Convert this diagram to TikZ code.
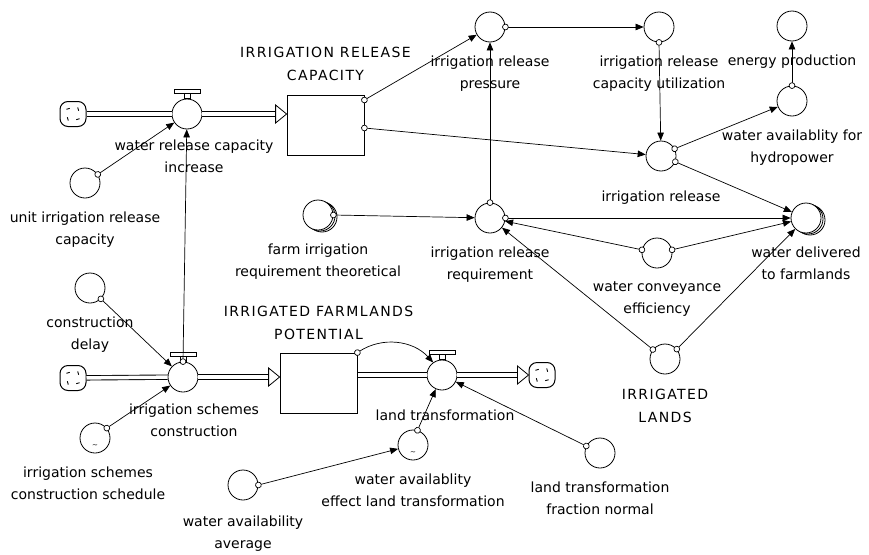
\documentclass[tikz,border=0pt]{standalone}
\usepackage{fontspec}
\setmainfont{DejaVu Sans}
\newfontfamily\capsfont[LetterSpace=10]{DejaVu Sans}
\usetikzlibrary{arrows.meta,shadows}

\begin{document}
\begin{tikzpicture}[
		x=1pt, y=-1pt,
		every label/.style = {font=\fontsize{14}{22.5}\selectfont, align=center, inner sep=0pt},
		label distance=13pt,
		var/.style = {draw, circle, fill=white, minimum size=30pt, inner sep=0pt, line width=0.8pt},
		shadowed/.style = {var, double copy shadow={shadow xshift=2pt, shadow yshift=-1pt}},
		lookup/.style = {var, label={[font=\scriptsize, label distance=-9pt]below:\textasciitilde}},
		flow/.style = {var},
		stock/.style = {draw, rectangle, fill=white, minimum width=77pt, minimum height=60pt, line width=0.8pt},
		cloud/.style = {draw, rectangle, rounded corners=8pt, minimum width=26pt, minimum height=25pt, line width=1pt,
			path picture={
				\foreach \a in {30,120,210,300}
					\draw[line width=0.9pt] ([shift={(\a:6.5pt)}]path picture bounding box.center) -- ++(\a+75:3.5pt);
			}},
		caps/.style = {font=\capsfont\fontsize{14}{23}\selectfont},
		pipe/.style = {double, double distance=3.5pt, line width=0.9pt},
		pipehead/.style = {draw, fill=white, line width=0.8pt},
		handle/.style = {draw, fill=white, line width=0.8pt},
		link/.style = {line width=0.7pt, shorten <=-3.25pt, {Circle[length=6.5pt,fill=white]}-{Triangle[length=8pt,width=6.5pt]}}
	]
	\fill[white] (0,0) rectangle (869,554);
	\useasboundingbox (0,0) rectangle (869,554);

	% upper chain
	\node[cloud] (src1) at (73,114) {};
	\node[flow, label={[xshift=7pt, yshift=3pt]below:water release capacity\\increase}] (wrci) at (187,114) {};
	\node[stock, label={[caps, label distance=14pt]above:IRRIGATION RELEASE\\CAPACITY}] (cap) at (325.5,125.5) {};
	\node[var, label={below:unit irrigation release\\capacity}] (unit) at (85,183) {};
	\node[var, label={below:irrigation release\\pressure}] (pres) at (490,27) {};
	\node[var, label={below:irrigation release\\capacity utilization}] (util) at (659,27) {};
	\node[var, label={below:energy production}] (energy) at (792,26) {};
	\node[var, label={below:water availablity for\\hydropower}] (hydro) at (792,101) {};
	\node[var, label={[yshift=-6pt]below:irrigation release}] (irel) at (661,156) {};
	\node[shadowed, label={below:water delivered\\to farmlands}] (wdel) at (806,218) {};
	\node[shadowed, label={below:farm irrigation\\requirement theoretical}] (farm) at (318,215) {};
	\node[var, label={below:irrigation release\\requirement}] (req) at (490,218) {};
	\node[var, label={below:water conveyance\\efficiency}] (wce) at (657,253) {};
	\node[var, label={[caps, yshift=-2pt]below:IRRIGATED\\LANDS}] (lands) at (665,359) {};

	% lower chain
	\node[cloud] (src2) at (73,378) {};
	\node[flow, label={[xshift=11pt, yshift=2pt]below:irrigation schemes\\construction}] (isc) at (183,377) {};
	\node[stock, label={[caps]above:IRRIGATED FARMLANDS\\POTENTIAL}] (pot) at (318.5,383) {};
	\node[flow, label={[xshift=3pt, yshift=-6pt]below:land transformation}] (lt) at (442,375) {};
	\node[cloud] (sink) at (542,375) {};
	\node[var, label={below:construction\\delay}] (delay) at (90,288) {};
	\node[lookup, label={[xshift=-7pt]below:irrigation schemes\\construction schedule}] (sched) at (95,438) {};
	\node[lookup, label={below:water availablity\\effect land transformation}] (wae) at (413,445) {};
	\node[var, label={[yshift=-2pt]below:water availability\\average}] (avg) at (243,485) {};
	\node[var, label={below:land transformation\\fraction normal}] (ltfn) at (600,453) {};

	% pipes
	\draw[pipe] (src1) -- (wrci);
	\draw[pipe, shorten >=11pt] (wrci) -- (wrci -| cap.west);
	\draw[pipehead] (wrci -| cap.west) -- ++(-11,-9) -- ++(0,18) -- cycle;
	\draw[pipe] (src2) -- (isc);
	\draw[pipe, shorten >=11pt] (isc) -- (isc -| pot.west);
	\draw[pipehead] (isc -| pot.west) -- ++(-11,-9) -- ++(0,18) -- cycle;
	\draw[pipe] ([xshift=0.4pt]lt -| pot.east) -- (lt);
	\draw[pipe, shorten >=11pt] (lt) -- (sink);
	\draw[pipehead] (sink.west) -- ++(-11,-9) -- ++(0,18) -- cycle;

	% valves
	\foreach \v in {wrci,isc,lt} {
		\draw[handle] ([xshift=-3pt]\v.north) rectangle ([xshift=3pt, yshift=5pt]\v.north);
		\draw[handle] ([xshift=-13pt, yshift=5pt]\v.north) rectangle ([xshift=13pt, yshift=9pt]\v.north);
	}

	% links
	\draw[link] (unit.34) -- (wrci);
	\draw[link] (isc.north) -- (wrci);
	\draw[link] ([yshift=25.5pt]cap.east) -- (pres);
	\draw[link] ([yshift=-2.5pt]cap.east) -- (irel);
	\draw[link] (pres.east) -- (util);
	\draw[link] (util.south) -- (irel);
	\draw[link] (irel.28) -- (hydro);
	\draw[link] (irel.-22) -- (wdel);
	\draw[link] (hydro.north) -- (energy);
	\draw[link] (farm.east) -- (req);
	\draw[link] (req.north) -- (pres);
	\draw[link] (req.east) -- (wdel);
	\draw[link] (wce.168) -- (req);
	\draw[link] (wce.12) -- (wdel);
	\draw[link] (lands.142) -- (req);
	\draw[link] (lands.40) -- (wdel);
	\draw[link] (delay.-45) -- (isc);
	\draw[link] (sched.40) -- (isc);
	\draw[link] (pot.north east) to[bend left=40] (lt);
	\draw[link] (wae.73) -- (lt);
	\draw[link] (avg.east) -- (wae);
	\draw[link] (ltfn.153) -- (lt);
\end{tikzpicture}
\end{document}
